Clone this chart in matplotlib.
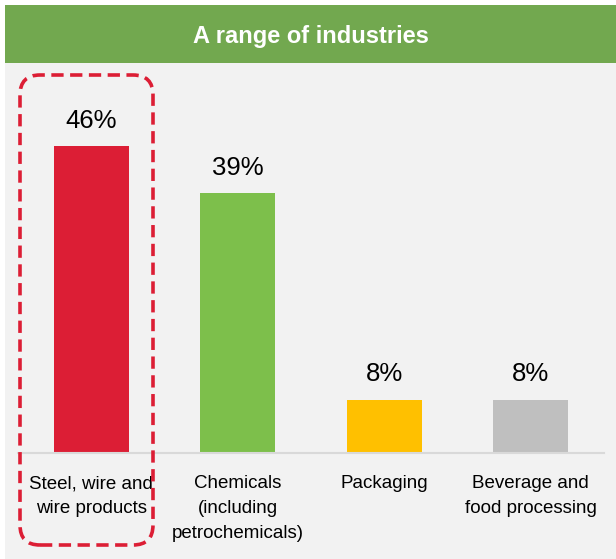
import matplotlib.pyplot as plt
from matplotlib.patches import Rectangle, FancyBboxPatch

categories = ['Steel, wire and\nwire products', 'Chemicals\n(including\npetrochemicals)',
              'Packaging', 'Beverage and\nfood processing']
shares = [46, 39, 8, 8]
colors = ['#DC1E35', '#7DBF4B', '#FFC000', '#BFBFBF']

W, H = 616, 559
fig = plt.figure(figsize=(W/100, H/100), dpi=100)
fig.patch.set_facecolor('white')

# grey panel and green header strip
fig.add_artist(Rectangle((5/W, 0), 1, (H-63)/H, transform=fig.transFigure,
                         facecolor='#F2F2F2', edgecolor='none', zorder=-10))
fig.add_artist(Rectangle((5/W, (H-63)/H), 1, 58/H, transform=fig.transFigure,
                         facecolor='#72A84F', edgecolor='none', zorder=-10))
fig.text((5+W)/2/W, (H-36)/H, 'A range of industries', color='white', fontsize=17,
         fontweight='bold', ha='center', va='center', family='Liberation Sans')

ax = fig.add_axes([18/W, (H-453)/H, 586/W, 380/H])
ax.patch.set_alpha(0)
x = range(len(categories))
ax.bar(x, shares, width=0.515, color=colors)
for xi, v in zip(x, shares):
    ax.text(xi, v + 2.0, f'{v}%', ha='center', va='bottom', fontsize=18.5,
            family='Liberation Sans')

ax.set_xlim(-0.5, len(categories) - 0.5)
ax.set_ylim(0, 57.0)
ax.set_yticks([])
ax.set_xticks(list(x))
ax.set_xticklabels(categories, fontsize=13.5, family='Liberation Sans', linespacing=1.62)
ax.tick_params(axis='x', length=0, pad=16)
for s in ['top', 'left', 'right']:
    ax.spines[s].set_visible(False)
ax.spines['bottom'].set_color('#D9D9D9')
ax.spines['bottom'].set_linewidth(1.5)

# dashed highlight around the first category (display pixels)
box = FancyBboxPatch((20, H-545), 133, 470, boxstyle='round,pad=0,rounding_size=20',
                     transform=None, facecolor='none', edgecolor='#DC1E35',
                     linewidth=2.6, linestyle=(0, (3.4, 1.8)), zorder=5)
fig.add_artist(box)

plt.savefig('out.png', dpi=100)
